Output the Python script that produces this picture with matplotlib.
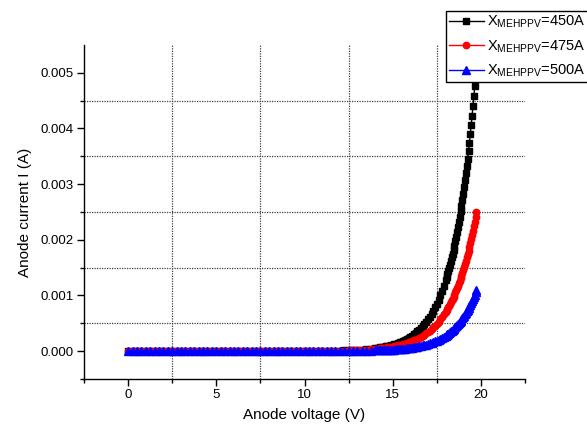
import matplotlib
matplotlib.use("Agg")
import matplotlib.pyplot as plt
from matplotlib.ticker import FixedLocator, FormatStrFormatter

plt.rcParams['font.family'] = ['Liberation Sans', 'DejaVu Sans']
plt.rcParams['mathtext.fontset'] = 'custom'
plt.rcParams['mathtext.rm'] = 'Liberation Sans'
plt.rcParams['mathtext.it'] = 'Liberation Sans:italic'

# ---------------- data ----------------
voltage = [
    0.0, 0.25, 0.5, 0.75, 1.0, 1.25, 1.5, 1.75, 2.0, 2.25, 2.5, 2.75,
    3.0, 3.25, 3.5, 3.75, 4.0, 4.25, 4.5, 4.75, 5.0, 5.25, 5.5, 5.75,
    6.0, 6.25, 6.5, 6.75, 7.0, 7.25, 7.5, 7.75, 8.0, 8.25, 8.5, 8.75,
    9.0, 9.25, 9.5, 9.75, 10.0, 10.25, 10.5, 10.75, 11.0, 11.25, 11.5, 11.75,
    12.0, 12.25, 12.5, 12.75, 13.0, 13.25, 13.5, 13.75,
    14.0, 14.1, 14.2, 14.3, 14.4, 14.5, 14.6, 14.7, 14.8, 14.9,
    15.0, 15.1, 15.2, 15.3, 15.4, 15.5, 15.6, 15.7, 15.8, 15.9,
    16.0, 16.1, 16.2, 16.3, 16.4, 16.5, 16.6, 16.7, 16.8, 16.9,
    17.0, 17.1, 17.2, 17.3, 17.4, 17.5, 17.6, 17.7, 17.8, 17.9,
    18.0, 18.05, 18.1, 18.15, 18.2, 18.25, 18.3, 18.35, 18.4, 18.45,
    18.5, 18.55, 18.6, 18.65, 18.7, 18.75, 18.8, 18.85, 18.9, 18.95,
    19.0, 19.05, 19.1, 19.15, 19.2, 19.25, 19.3, 19.35, 19.4, 19.45,
    19.5, 19.55, 19.6, 19.65, 19.7, 19.75,
]

current_450 = [
    0.0, 0.0, 0.0, 0.0, 0.0, 0.0, 0.0, 0.0, 0.0, 0.0, 0.0, 0.0,
    0.0, 0.0, 0.0, 0.0, 0.0, 0.0, 0.0, 0.0, 0.0, 0.0, 0.0, 0.0,
    0.0, 0.0, 0.0, 0.0, 0.0, 0.0, 0.0, 0.0, 0.0, 0.0, 0.0, 0.0,
    0.0, 0.0, 0.0, 0.0, 0.0, 0.0, 0.0, 0.0, 0.0, 0.0, 0.0, 0.0,
    0.0000105, 0.0000128, 0.0000156, 0.0000191, 0.0000233, 0.0000285, 0.0000348, 0.0000425,
    0.000052, 0.000056, 0.000061, 0.000066, 0.000071, 0.000077, 0.000084, 0.000091, 0.000098, 0.000107,
    0.000115, 0.000125, 0.000135, 0.000147, 0.000159, 0.000172, 0.000187, 0.000202, 0.000219, 0.000237,
    0.000257, 0.000278, 0.000301, 0.000327, 0.000354, 0.000383, 0.000415, 0.000450, 0.000487, 0.000528,
    0.000572, 0.000619, 0.000671, 0.000727, 0.000787, 0.000853, 0.000924, 0.001001, 0.001084, 0.001175,
    0.001272, 0.001324, 0.001378, 0.001435, 0.001493, 0.001554, 0.001618, 0.001684, 0.001752, 0.001824,
    0.001898, 0.001976, 0.002056, 0.002140, 0.002228, 0.002319, 0.002413, 0.002512, 0.002614, 0.002721,
    0.002832, 0.002947, 0.003068, 0.003193, 0.003323, 0.003459, 0.003600, 0.003747, 0.003900, 0.004059,
    0.004225, 0.004397, 0.004577, 0.004763, 0.004958, 0.005160,
]

current_475 = [
    0.0, 0.0, 0.0, 0.0, 0.0, 0.0, 0.0, 0.0, 0.0, 0.0, 0.0, 0.0,
    0.0, 0.0, 0.0, 0.0, 0.0, 0.0, 0.0, 0.0, 0.0, 0.0, 0.0, 0.0,
    0.0, 0.0, 0.0, 0.0, 0.0, 0.0, 0.0, 0.0, 0.0, 0.0, 0.0, 0.0,
    0.0, 0.0, 0.0, 0.0, 0.0, 0.0, 0.0, 0.0, 0.0, 0.0, 0.0, 0.0,
    0.0000094, 0.0000113, 0.0000135, 0.0000162, 0.0000194, 0.0000232, 0.0000278, 0.0000333,
    0.000040, 0.000043, 0.000046, 0.000049, 0.000053, 0.000057, 0.000061, 0.000066, 0.000071, 0.000076,
    0.000082, 0.000088, 0.000094, 0.000102, 0.000109, 0.000117, 0.000126, 0.000135, 0.000146, 0.000156,
    0.000168, 0.000181, 0.000194, 0.000209, 0.000224, 0.000241, 0.000259, 0.000278, 0.000299, 0.000321,
    0.000345, 0.000371, 0.000399, 0.000428, 0.000460, 0.000495, 0.000532, 0.000571, 0.000614, 0.000660,
    0.000709, 0.000735, 0.000762, 0.000790, 0.000819, 0.000849, 0.000880, 0.000912, 0.000946, 0.000980,
    0.001016, 0.001054, 0.001092, 0.001132, 0.001174, 0.001217, 0.001261, 0.001308, 0.001356, 0.001405,
    0.001457, 0.001510, 0.001566, 0.001623, 0.001683, 0.001744, 0.001808, 0.001874, 0.001943, 0.002014,
    0.002088, 0.002165, 0.002244, 0.002326, 0.002412, 0.002500,
]

current_500 = [
    0.0, 0.0, 0.0, 0.0, 0.0, 0.0, 0.0, 0.0, 0.0, 0.0, 0.0, 0.0,
    0.0, 0.0, 0.0, 0.0, 0.0, 0.0, 0.0, 0.0, 0.0, 0.0, 0.0, 0.0,
    0.0, 0.0, 0.0, 0.0, 0.0, 0.0, 0.0, 0.0, 0.0, 0.0, 0.0, 0.0,
    0.0, 0.0, 0.0, 0.0, 0.0, 0.0, 0.0, 0.0, 0.0, 0.0, 0.0, 0.0,
    0.0000026, 0.0000032, 0.0000038, 0.0000047, 0.0000057, 0.0000069, 0.0000084, 0.0000102,
    0.000012, 0.000013, 0.000015, 0.000016, 0.000017, 0.000018, 0.000020, 0.000021, 0.000023, 0.000025,
    0.000027, 0.000029, 0.000032, 0.000034, 0.000037, 0.000040, 0.000043, 0.000047, 0.000051, 0.000055,
    0.000059, 0.000064, 0.000069, 0.000075, 0.000081, 0.000087, 0.000094, 0.000102, 0.000110, 0.000119,
    0.000129, 0.000139, 0.000151, 0.000163, 0.000176, 0.000190, 0.000206, 0.000222, 0.000240, 0.000260,
    0.000281, 0.000292, 0.000304, 0.000316, 0.000328, 0.000341, 0.000355, 0.000369, 0.000384, 0.000399,
    0.000415, 0.000431, 0.000449, 0.000466, 0.000485, 0.000504, 0.000524, 0.000545, 0.000567, 0.000589,
    0.000613, 0.000637, 0.000663, 0.000689, 0.000716, 0.000745, 0.000774, 0.000805, 0.000837, 0.000871,
    0.000905, 0.000941, 0.000979, 0.001017, 0.001058, 0.001100,
]

labels = [r'X$_{\mathrm{MEHPPV}}$=450A',
          r'X$_{\mathrm{MEHPPV}}$=475A',
          r'X$_{\mathrm{MEHPPV}}$=500A']

x_major = [0, 5, 10, 15, 20]
x_minor = [-2.5, 2.5, 7.5, 12.5, 17.5, 22.5]
y_major = [0.000, 0.001, 0.002, 0.003, 0.004, 0.005]
y_minor = [-0.0005, 0.0005, 0.0015, 0.0025, 0.0035, 0.0045]
x_grid = [2.5, 7.5, 12.5, 17.5]
y_grid = [0.0005, 0.0015, 0.0025, 0.0035, 0.0045]

# ---------------- figure ----------------
W, H = 587, 430
fig = plt.figure(figsize=(W / 100, H / 100), dpi=100)
ax = fig.add_axes([84 / W, 1 - 379 / H, (525 - 84) / W, (379 - 45) / H])

for v in x_grid:
    ax.axvline(v, color='0.25', lw=0.9, ls=(0, (1, 1)), zorder=0.5)
for v in y_grid:
    ax.axhline(v, color='0.25', lw=0.9, ls=(0, (1, 1)), zorder=0.5)

ms = 4.6
ax.plot(voltage, current_450, color='black', marker='s', ms=ms, lw=1,
        mec='black', mfc='black', label=labels[0], zorder=3)
ax.plot(voltage, current_475, color='red', marker='o', ms=ms, lw=1,
        mec='red', mfc='red', label=labels[1], zorder=4)
ax.plot(voltage, current_500, color='blue', marker='^', ms=ms + 0.6, lw=1,
        mec='blue', mfc='blue', label=labels[2], zorder=5)

ax.set_xlim(-2.5, 22.5)
ax.set_ylim(-0.0005, 0.0055)

ax.xaxis.set_major_locator(FixedLocator(x_major))
ax.xaxis.set_minor_locator(FixedLocator(x_minor))
ax.yaxis.set_major_locator(FixedLocator(y_major))
ax.yaxis.set_minor_locator(FixedLocator(y_minor))
ax.yaxis.set_major_formatter(FormatStrFormatter('%.3f'))

for s in ['top', 'right']:
    ax.spines[s].set_visible(False)
for s in ['left', 'bottom']:
    ax.spines[s].set_linewidth(1.0)
    ax.spines[s].set_color('black')

ax.tick_params(which='major', direction='out', length=5, width=1,
               labelsize=9.5, pad=2.5, colors='black')
ax.tick_params(which='minor', direction='out', length=3, width=1)

ax.set_xlabel('Anode voltage (V)', fontsize=11, labelpad=5)
ax.set_ylabel('Anode current I (A)', fontsize=11, labelpad=6)

leg = ax.legend(loc='upper left', bbox_to_anchor=(446 / W, 1 - 11 / H),
                bbox_transform=fig.transFigure, borderaxespad=0,
                fontsize=10.5, frameon=True, fancybox=False,
                edgecolor='black', framealpha=1, handlelength=2.4,
                handletextpad=0.2, labelspacing=0.55, borderpad=0.2,
                numpoints=1)
leg.get_frame().set_linewidth(1.0)
leg.set_zorder(10)

fig.savefig('out.png', dpi=100)
